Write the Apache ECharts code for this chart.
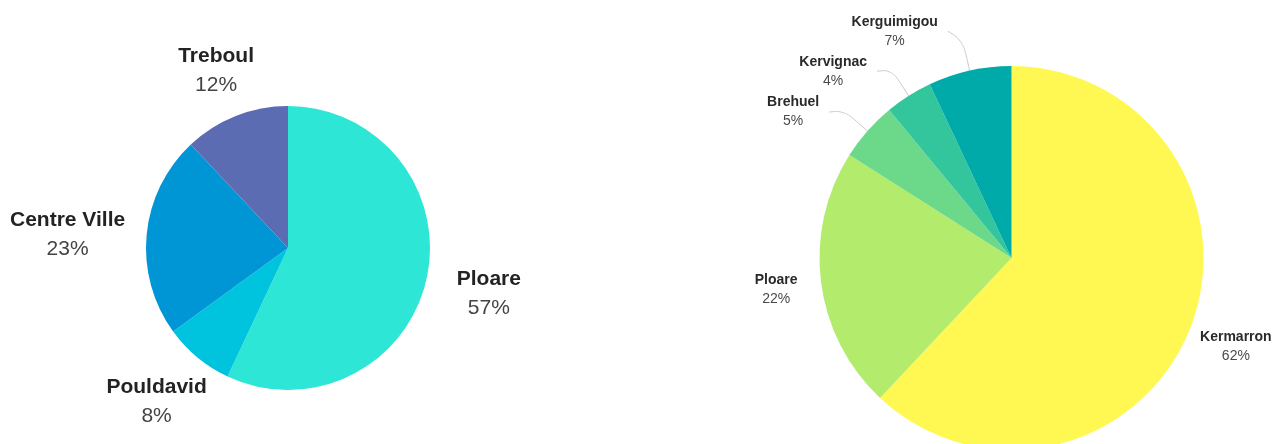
<!DOCTYPE html>
<html>
<head>
<meta charset="utf-8">
<script src="https://cdn.jsdelivr.net/npm/echarts@6/dist/echarts.min.js"></script>
<style>
html,body{margin:0;padding:0;background:#fff;}
#chart{width:1272px;height:444px;}
</style>
</head>
<body>
<div id="chart"></div>
<script>
// ---- data ----
var leftNames = ['Ploare', 'Pouldavid', 'Centre Ville', 'Treboul'];
var leftValues = [57, 8, 23, 12];
var rightNames = ['Kermarron', 'Ploare', 'Brehuel', 'Kervignac', 'Kerguimigou'];
var rightValues = [62, 22, 5, 4, 7];

// ---- styles ----
var leftColors = ['#2DE6D5', '#00C3DE', '#0096D6', '#5B6CB2'];
var rightColors = ['#FFF852', '#B3EB6C', '#6CD98A', '#33C69C', '#00AAA8'];
var FONT = '"Liberation Sans", Arial, sans-serif';

var L = { center: [288, 248], radius: 142, gap: 45, a: 0.6, b: 0.35, dy: 4 };
var R = { center: [1011.5, 258], radius: 192, gap: 38, a: 0.34, b: 0.3, dy: 3,
          lineIdx: [2, 3, 4], len1: 31, len2: 15, textGap: 10, spacing: 40, smallDy: 1.5 };

function midDirs(values) {
  var total = values.reduce(function (s, v) { return s + v; }, 0);
  var cum = 0;
  return values.map(function (v) {
    var t = 2 * Math.PI * (cum + v / 2) / total;
    cum += v;
    return [Math.sin(t), -Math.cos(t)];
  });
}
var leftDirs = midDirs(leftValues);
var rightDirs = midDirs(rightValues);

// precompute stacked positions for small slices on the right pie
var smallPos = {};
(function () {
  var prevY = null;
  R.lineIdx.forEach(function (i) {
    var u = rightDirs[i];
    var c = R.center;
    var p0 = [c[0] + u[0] * R.radius, c[1] + u[1] * R.radius];
    var p1 = [c[0] + u[0] * (R.radius + R.len1), c[1] + u[1] * (R.radius + R.len1)];
    var y = p1[1];
    if (prevY !== null) y = Math.min(y, prevY - R.spacing);
    prevY = y;
    y += R.smallDy;
    var p2 = [p1[0] - R.len2, y];
    smallPos[i] = { pts: [p0, p1, p2], x: p2[0] - R.textGap, y: y };
  });
})();

function bigLayout(cfg, dirs) {
  return function (params) {
    var i = params.dataIndex;
    var u = dirs[i];
    var c = cfg.center;
    var hw = params.labelRect.width / 2, hh = params.labelRect.height / 2;
    var d = cfg.radius + cfg.gap;
    return {
      x: c[0] + u[0] * d + u[0] * Math.abs(u[0]) * cfg.a * hw,
      y: c[1] + u[1] * d + u[1] * Math.abs(u[1]) * cfg.b * hh + cfg.dy,
      align: 'center',
      verticalAlign: 'middle'
    };
  };
}
var leftLayout = bigLayout(L, leftDirs);
var rightBig = bigLayout(R, rightDirs);
function rightLayout(params) {
  var sp = smallPos[params.dataIndex];
  if (sp) {
    return { x: sp.x, y: sp.y, align: 'right', verticalAlign: 'middle', labelLinePoints: sp.pts };
  }
  return rightBig(params);
}

var leftData = leftNames.map(function (n, i) {
  return { name: n, value: leftValues[i], itemStyle: { color: leftColors[i] } };
});
var rightData = rightNames.map(function (n, i) {
  var d = { name: n, value: rightValues[i], itemStyle: { color: rightColors[i] } };
  if (R.lineIdx.indexOf(i) < 0) d.labelLine = { show: false };
  return d;
});

var chart = echarts.init(document.getElementById('chart'), null, { renderer: 'canvas' });
chart.setOption({
  backgroundColor: '#ffffff',
  animation: false,
  series: [
    {
      type: 'pie',
      center: L.center,
      radius: L.radius,
      startAngle: 90,
      clockwise: true,
      avoidLabelOverlap: false,
      data: leftData,
      itemStyle: { borderWidth: 0 },
      emphasis: { disabled: true },
      label: {
        show: true,
        position: 'outside',
        formatter: '{n|{b}}\n{p|{c}%}',
        rich: {
          n: { fontFamily: FONT, fontSize: 21, fontWeight: 'bold', color: '#232323', lineHeight: 29, align: 'center' },
          p: { fontFamily: FONT, fontSize: 21, color: '#444444', lineHeight: 29, align: 'center' }
        }
      },
      labelLine: { show: false },
      labelLayout: leftLayout
    },
    {
      type: 'pie',
      center: R.center,
      radius: R.radius,
      startAngle: 90,
      clockwise: true,
      avoidLabelOverlap: false,
      data: rightData,
      itemStyle: { borderWidth: 0 },
      emphasis: { disabled: true },
      label: {
        show: true,
        position: 'outside',
        formatter: '{n|{b}}\n{p|{c}%}',
        rich: {
          n: { fontFamily: FONT, fontSize: 14, fontWeight: 'bold', color: '#2a2a2a', lineHeight: 19, align: 'center' },
          p: { fontFamily: FONT, fontSize: 14, color: '#4a4a4a', lineHeight: 19, align: 'center' }
        }
      },
      labelLine: { show: true, smooth: 0.4, lineStyle: { color: '#cccccc', width: 1 } },
      labelLayout: rightLayout
    }
  ]
});
</script>
</body>
</html>
